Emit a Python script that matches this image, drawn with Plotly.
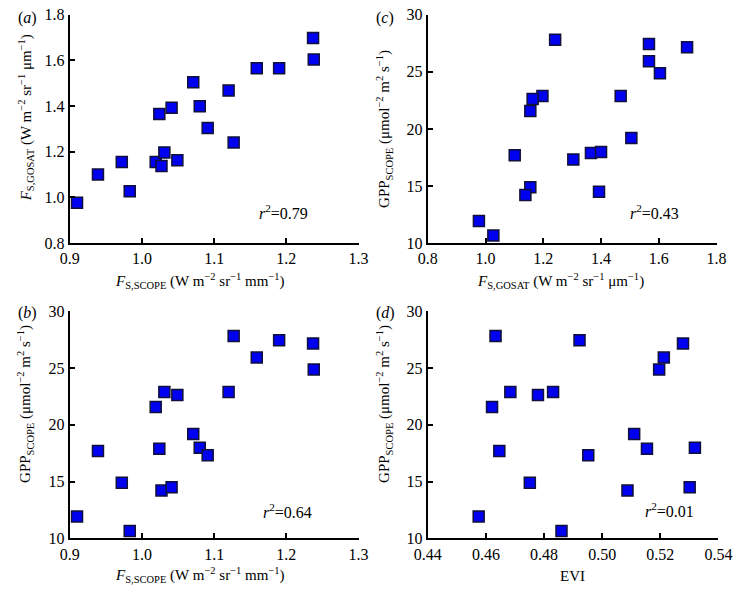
import plotly.graph_objects as go

# site data (19 sites)
fs_scope = [0.910, 0.939, 0.972, 0.983, 1.019, 1.024, 1.027, 1.031, 1.041, 1.049,
            1.071, 1.080, 1.091, 1.120, 1.127, 1.159, 1.190, 1.237, 1.238]
fs_gosat = [0.977, 1.101, 1.155, 1.027, 1.155, 1.365, 1.138, 1.197, 1.393, 1.163,
            1.505, 1.400, 1.304, 1.468, 1.241, 1.566, 1.566, 1.698, 1.604]
gpp_scope = [11.94, 17.69, 14.90, 10.66, 21.57, 17.89, 14.22, 22.88, 14.50, 22.62,
             19.20, 17.98, 17.32, 22.88, 27.81, 25.93, 27.44, 27.15, 24.87]
evi = [0.4575, 0.4646, 0.4751, 0.4860, 0.4621, 0.5154, 0.5087, 0.4684, 0.5301, 0.4779,
       0.5110, 0.5319, 0.4952, 0.4831, 0.4633, 0.5212, 0.4922, 0.5278, 0.5196]

r2_labels = ["0.79", "0.64", "0.43", "0.01"]
panel_labels = ["a", "b", "c", "d"]

W, H = 744, 598
FONT = "Liberation Serif"

def px(x):
    return x / W

def py(y):
    return 1 - y / H

fig = go.Figure()

marker = dict(symbol="square", size=11, color="#0000f0",
              line=dict(color="#10103a", width=1.5))

panels = [
    (fs_scope, fs_gosat, "x", "y"),
    (fs_scope, gpp_scope, "x2", "y2"),
    (fs_gosat, gpp_scope, "x3", "y3"),
    (evi, gpp_scope, "x4", "y4"),
]
for xs, ys, xa, ya in panels:
    fig.add_trace(go.Scatter(x=xs, y=ys, mode="markers", marker=marker,
                             xaxis=xa, yaxis=ya, showlegend=False))

axis_common = dict(showline=True, linecolor="black", linewidth=2,
                   ticks="inside", ticklen=5, tickwidth=1.5, tickcolor="black",
                   showgrid=False, zeroline=False, mirror=False,
                   tickfont=dict(family=FONT, size=16, color="black"))

dom = {
    "a": ((58, 358), (7, 242)),
    "b": ((58, 358), (312, 546)),
    "c": ((430, 730), (7, 242)),
    "d": ((430, 732), (312, 546)),
}

def xd(k):
    return [px(dom[k][0][0]), px(dom[k][0][1])]

def yd(k):
    return [py(dom[k][1][1]), py(dom[k][1][0])]

fig.update_layout(
    xaxis=dict(domain=xd("a"), range=[0.9, 1.3], dtick=0.1, tickformat=".1f",
               anchor="y", **axis_common),
    yaxis=dict(domain=yd("a"), range=[0.8, 1.8], dtick=0.2, tickformat=".1f",
               anchor="x", **axis_common),
    xaxis2=dict(domain=xd("b"), range=[0.9, 1.3], dtick=0.1, tickformat=".1f",
                anchor="y2", **axis_common),
    yaxis2=dict(domain=yd("b"), range=[10, 30], dtick=5,
                anchor="x2", **axis_common),
    xaxis3=dict(domain=xd("c"), range=[0.8, 1.8], dtick=0.2, tickformat=".1f",
                anchor="y3", **axis_common),
    yaxis3=dict(domain=yd("c"), range=[10, 30], dtick=5,
                anchor="x3", **axis_common),
    xaxis4=dict(domain=xd("d"), range=[0.44, 0.54], dtick=0.02, tickformat=".2f",
                anchor="y4", **axis_common),
    yaxis4=dict(domain=yd("d"), range=[10, 30], dtick=5,
                anchor="x4", **axis_common),
    width=W, height=H,
    margin=dict(l=0, r=0, t=0, b=0),
    paper_bgcolor="white", plot_bgcolor="white",
    font=dict(family=FONT, size=16, color="black"),
)

t_fscope = "<i>F</i><sub>S,SCOPE</sub> (W m<sup>−2</sup> sr<sup>−1</sup> mm<sup>−1</sup>)"
t_fgosat = "<i>F</i><sub>S,GOSAT</sub> (W m<sup>−2</sup> sr<sup>−1</sup> μm<sup>−1</sup>)"
t_gpp = "GPP<sub>SCOPE</sub> (μmol<sup>−2</sup> m<sup>2</sup> s<sup>−1</sup>)"

annots = [
    (193, 281, t_fscope, 0),
    (193, 584, t_fscope, 0),
    (568, 281, t_fgosat, 0),
    (580, 585, "EVI", 0),
    (12, 113, t_fgosat, -90),
    (12, 408, t_gpp, -90),
    (385, 125, t_gpp, -90),
    (385, 408, t_gpp, -90),
]
for x, y, text, ang in annots:
    fig.add_annotation(x=px(x), y=py(y), xref="paper", yref="paper", text=text,
                       showarrow=False, textangle=ang,
                       xanchor="center", yanchor="middle",
                       font=dict(family=FONT, size=15, color="black"))

for lab, (x, y) in zip(panel_labels, [(14, 10), (14, 314), (386, 10), (386, 314)]):
    fig.add_annotation(x=px(x), y=py(y), xref="paper", yref="paper",
                       text="(<i>%s</i>)" % lab, showarrow=False,
                       xanchor="center", yanchor="middle",
                       font=dict(family=FONT, size=16, color="black"))

for lab, (x, y) in zip(r2_labels, [(280, 210), (284, 518), (666, 210), (681, 517)]):
    fig.add_annotation(x=px(x), y=py(y), xref="paper", yref="paper",
                       text="<i>r</i><sup>2</sup>=" + lab, showarrow=False,
                       xanchor="center", yanchor="middle",
                       font=dict(family=FONT, size=16, color="black"))

fig.write_html("out.html", config={"displayModeBar": False},
               post_script="document.body.style.margin='0px';document.body.style.overflow='hidden';")
